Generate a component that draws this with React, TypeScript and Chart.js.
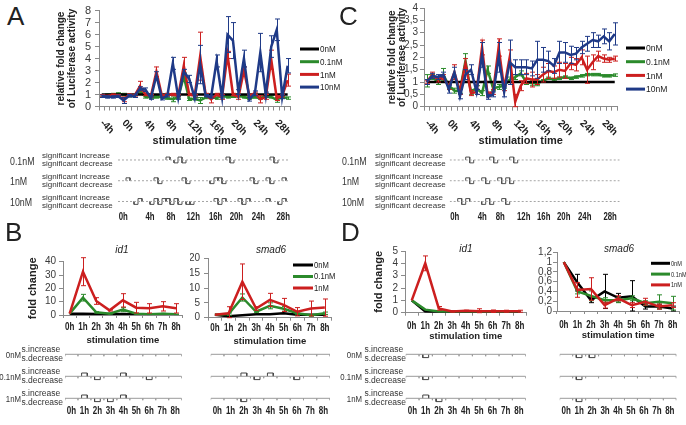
import React, { useEffect, useRef } from 'react';
import { Chart, registerables } from 'chart.js';

Chart.register(...registerables);

const SANS = "'Liberation Sans', Arial, Helvetica, sans-serif";
Chart.defaults.font.family = SANS;

const BLACK = '#000000';
const GREEN = '#2b8a2b';
const RED = '#cc1f1f';
const NAVY = '#1f3a87';
const AXIS = '#8a8a8a';
const TEXT = '#222222';

// ---------------- Panels A / C : hourly luciferase ----------------
const hoursAC = ['-4h','-3h','-2h','-1h','0h','1h','2h','3h','4h','5h','6h','7h','8h','9h','10h','11h','12h','13h','14h','15h','16h','17h','18h','19h','20h','21h','22h','23h','24h','25h','26h','27h','28h','29h','30h'];
const shownHoursAC = ['-4h','0h','4h','8h','12h','16h','20h','24h','28h'];

const A_0nM = [1,1,1,1,1,1,1,1,1,1,1,1,1,1,1,1,1,1,1,1,1,1,1,1,1,1,1,1,1,1,1,1,1,1,1];
const A_01nM = [0.9,0.95,1.0,1.05,1.0,0.9,0.85,1.3,0.8,0.75,0.8,0.8,0.7,0.6,0.75,2.5,0.6,0.65,0.5,0.75,0.8,0.7,0.9,0.8,0.85,0.9,0.8,0.7,0.8,0.7,0.85,0.8,0.55,0.8,0.7];
const A_01nM_err = [0.1,0.1,0.1,0.1,0.1,0.1,0.1,0.2,0.1,0.1,0.1,0.1,0.1,0.2,0.1,0.3,0.1,0.1,0.25,0.1,0.1,0.1,0.1,0.1,0.1,0.1,0.1,0.1,0.1,0.1,0.1,0.1,0.2,0.1,0.1];
const A_1nM = [0.9,0.85,0.95,0.9,0.6,0.95,0.9,1.7,1.0,0.9,2.9,0.9,1.0,1.0,0.9,3.4,1.0,0.9,4.2,1.0,0.6,1.0,0.8,4.3,1.0,0.8,3.0,0.9,1.1,0.6,0.8,3.9,0.7,0.9,2.2];
const A_1nM_err = [0.1,0.1,0.1,0.1,0.2,0.1,0.1,0.4,0.1,0.1,0.4,0.1,0.1,0.1,0.1,0.7,0.1,0.1,2.0,0.1,0.3,0.1,0.2,0.3,0.1,0.2,0.3,0.1,0.1,0.3,0.2,0.8,0.2,0.1,0.5];
const A_10nM = [0.85,0.8,0.8,0.85,0.5,0.9,0.85,1.5,1.4,0.7,2.6,0.65,0.9,3.6,0.7,2.9,2.3,0.7,3.5,0.9,0.8,3.8,0.8,6.0,5.5,1.2,4.0,0.6,1.1,4.5,1.0,5.0,6.4,0.8,3.4];
const A_10nM_err = [0.1,0.1,0.1,0.1,0.25,0.1,0.1,0.15,0.15,0.1,0.3,0.1,0.1,0.5,0.1,0.2,0.3,0.1,1.6,0.1,0.1,0.5,0.1,1.5,1.5,0.2,0.7,0.15,0.2,1.6,0.2,0.9,0.9,0.15,0.6];

const C_0nM = [1,1,1,1,1,1,1,1,1,1,1,1,1,1,1,1,1,1,1,1,1,1,1,1,1,1,1,1,1,1,1,1,1,1,1];
const C_01nM = [1.05,1.2,1.0,1.3,0.85,0.65,0.65,1.85,0.6,0.75,0.55,1.5,0.75,0.8,0.85,1.1,1.2,1.35,1.0,0.95,0.95,1.05,1.15,1.1,1.15,1.2,1.15,1.2,1.25,1.3,1.3,1.3,1.25,1.25,1.28];
const C_01nM_err = [0.25,0.1,0.1,0.25,0.1,0.1,0.1,0.3,0.1,0.1,0.1,0.15,0.1,0.1,0.1,0.1,0.1,0.1,0.1,0.1,0.1,0.05,0.05,0.05,0.05,0.05,0.05,0.05,0.05,0.05,0.05,0.05,0.05,0.05,0.05];
const C_1nM = [1.0,1.3,1.1,1.2,0.8,1.4,0.6,1.75,0.55,0.6,2.4,0.5,0.6,2.4,0.75,2.0,0.2,0.85,1.15,1.1,1.1,1.3,1.45,1.4,1.5,1.45,1.75,1.7,2.0,1.5,1.8,2.05,1.95,1.9,1.95];
const C_1nM_err = [0.05,0.1,0.1,0.1,0.1,0.3,0.1,0.2,0.1,0.1,0.3,0.1,0.1,0.35,0.1,0.3,0.3,0.2,0.2,0.3,0.2,0.3,0.3,0.25,0.3,0.3,0.25,0.25,0.3,0.55,0.3,0.2,0.15,0.1,0.1];
const C_10nM = [1.0,1.25,1.2,1.3,0.7,1.4,0.42,1.3,1.5,0.6,2.1,0.4,0.5,2.0,0.6,1.8,1.6,1.6,1.6,1.55,1.9,1.9,1.85,1.65,2.2,2.2,2.1,2.15,2.4,2.55,2.7,2.65,2.85,2.65,2.95];
const C_10nM_err = [0.1,0.1,0.1,0.1,0.15,0.2,0.1,0.2,0.2,0.1,0.5,0.1,0.1,0.6,0.2,0.9,0.3,0.3,0.3,0.3,0.75,0.5,0.4,0.3,0.45,0.4,0.35,0.25,0.25,0.3,0.3,0.25,0.3,0.35,0.45];

// ---------------- Panels B / D : qPCR 0-8h ----------------
const hoursBD = ['0h','1h','2h','3h','4h','5h','6h','7h','8h'];

const B_id1_0nM = [1,1,0.8,0.7,0.8,0.6,0.5,0.6,0.5];
const B_id1_01nM = [1,13,2,1,4,1,0.5,1,0.5];
const B_id1_01nM_err = [0,2.5,0.5,0.3,1.5,0.3,0.2,0.3,0.2];
const B_id1_1nM = [1,32.5,10.5,3.5,11,5.5,5,6.5,5];
const B_id1_1nM_err = [0,10.5,2.5,0.5,5,4,3.5,3.5,3.5];

const B_smad6_0nM = [1,0.5,0.8,1.2,1.2,1.5,1.0,1.0,1.0];
const B_smad6_01nM = [1,1.2,6.8,2,4,3,1.5,0.8,1.5];
const B_smad6_01nM_err = [0,0.4,1.2,0.3,1,0.8,0.5,0.3,0.4];
const B_smad6_1nM = [1,1.5,12.1,3.1,6,4.3,2,3.1,3.4];
const B_smad6_1nM_err = [0,2.2,6,0.6,2.2,2.2,1.4,2.5,2.9];

const D_id1_0nM = [1,0.1,0.05,0.05,0.05,0.05,0.05,0.05,0.05];
const D_id1_01nM = [1,0.25,0.1,0.1,0.1,0.1,0.1,0.1,0.12];
const D_id1_1nM = [1,4.0,0.35,0.1,0.15,0.12,0.12,0.12,0.12];
const D_id1_1nM_err = [0,0.6,0.15,0.05,0.05,0.2,0.1,0.08,0.08];

const D_smad6_0nM = [1,0.58,0.22,0.4,0.27,0.3,0.09,0.09,0.05];
const D_smad6_0nM_err = [0,0.17,0.05,0.35,0.09,0.32,0.05,0.05,0.05];
const D_smad6_01nM = [1,0.4,0.31,0.22,0.22,0.26,0.16,0.19,0.16];
const D_smad6_01nM_err = [0,0.05,0.1,0.05,0.05,0.05,0.05,0.14,0.14];
const D_smad6_1nM = [1,0.43,0.45,0.12,0.26,0.12,0.19,0.09,0.12];
const D_smad6_1nM_err = [0,0.15,0.23,0.06,0.05,0.05,0.07,0.05,0.05];

// ---------------- significance tracks (1 = increase, -1 = decrease) ----------------
const sigA_01nM = [0,0,0,0,0,0,0,0,0,0, 0,0,1,0,-1,1,-1,0,0,0, 0,0,0,0,0,0,0,1,-1,0, 0,0,0,0,0,0,0,0,1,-1, 0,0,0];
const sigA_1nM = [0,0,1,0,0,0,0,0,0,1, -1,0,0,0,0,0,1,-1,0,0, 0,0,0,-1,1,1,-1,0,0,0, 0,0,0,1,-1,0,0,1,-1,0, 0,1,0];
const sigA_10nM = [0,0,0,0,-1,1,0,0,-1,1, -1,1,1,-1,1,-1,0,-1,-1,0, 0,0,0,0,1,-1,1,0,0,0, 1,-1,1,0,0,0,0,1,0,0, -1,1,0];
const sigC_01nM = [0,0,0,0,1,-1,0,0,0,0, 1,-1,0,0,0,1,-1,0,0,0, 0,0,0,0,0,0,0,0,0,0, 0,0,0,0,0,0,0,0,0,0, 0,0];
const sigC_1nM = [0,0,0,0,1,-1,0,0,1,-1, 0,0,1,-1,1,-1,0,0,0,0, 0,0,0,0,0,0,0,0,0,0, 0,0,0,0,0,0,0,0,0,0, 0,0];
const sigC_10nM = [0,0,1,-1,1,0,0,0,-1,1, -1,0,0,1,-1,0,0,0,0,0, 0,0,0,0,0,0,0,0,0,0, 0,0,0,0,0,0,0,0,0,0, 0,0];
const sigTickLabelsAC = ['0h','4h','8h','12h','16h','20h','24h','28h'];
const sigTickSlotsA = [1.3, 8, 13.25, 18.8, 24.4, 29.6, 35.1, 41.3];
const sigTickSlotsC = [1.25, 8.15, 12.65, 18.5, 23.5, 28.5, 33.75, 40.1];

const sigB_id1_0nM = [0,0,0,0,0,0,0,0,0];
const sigB_id1_01nM = [0,1,-1,0,1,0,-1,0,0];
const sigB_id1_1nM = [0,1,-1,-1,1,0,0,0,0];
const sigB_smad6_0nM = [0,0,0,0,0,0,0,0,0];
const sigB_smad6_01nM = [0,0,1,-1,1,0,-1,0,0];
const sigB_smad6_1nM = [0,0,-1,0,0,0,0,0,0];
const sigD_id1_0nM = [0,-1,0,0,0,0,0,0,0];
const sigD_id1_01nM = [0,-1,0,0,0,0,0,0,0];
const sigD_id1_1nM = [0,1,-1,0,0,0,0,0,0];
const sigD_smad6_0nM = [0,-1,-1,0,0,0,0,0,0];
const sigD_smad6_01nM = [0,-1,0,0,0,0,0,0,0];
const sigD_smad6_1nM = [0,-1,0,0,0,0,0,0,0];
const hourSlotsBD = [0,1,2,3,4,5,6,7,8];

const concAC = ['0nM','0.1nM','1nM','10nM'];
const concBD = ['0nM','0.1nM','1nM'];
const sigRowsAC = ['0.1nM','1nM','10nM'];

// ---------------- plugins ----------------
const errorBars = {
  id: 'errorBars',
  afterDatasetDraw(chart: any, args: any) {
    const ds = chart.data.datasets[args.index];
    if (!ds.errors) return;
    const ys = chart.scales.y;
    const ctx = chart.ctx;
    ctx.save();
    ctx.strokeStyle = ds.borderColor;
    ctx.lineWidth = 1;
    args.meta.data.forEach((pt: any, i: number) => {
      const e = ds.errors[i];
      const v = ds.data[i];
      if (!e) return;
      const x = Math.round(pt.x) + 0.5;
      const yt = ys.getPixelForValue(v + e);
      const yb = ys.getPixelForValue(Math.max(v - e, ys.min));
      ctx.beginPath();
      ctx.moveTo(x, yt); ctx.lineTo(x, yb);
      ctx.moveTo(x - 2.5, yt); ctx.lineTo(x + 2.5, yt);
      ctx.moveTo(x - 2.5, yb); ctx.lineTo(x + 2.5, yb);
      ctx.stroke();
    });
    ctx.restore();
  },
};

function condensedText(ctx: any, text: string, x: number, y: number, sx: number) {
  ctx.save();
  ctx.translate(x, y);
  ctx.scale(sx, 1);
  ctx.fillText(text, 0, 0);
  ctx.restore();
}

const lineLegend = {
  id: 'lineLegend',
  afterDraw(chart: any, _a: any, o: any) {
    if (!o || o.x == null) return;
    const ctx = chart.ctx;
    ctx.save();
    ctx.font = `${o.size}px ${SANS}`;
    ctx.textBaseline = 'middle';
    ctx.textAlign = 'left';
    chart.data.datasets.forEach((ds: any, i: number) => {
      const y = o.y + i * o.dy;
      ctx.strokeStyle = ds.borderColor;
      ctx.lineWidth = 3;
      ctx.beginPath();
      ctx.moveTo(o.x, y);
      ctx.lineTo(o.x + o.len, y);
      ctx.stroke();
      ctx.fillStyle = TEXT;
      condensedText(ctx, ds.label, o.x + o.len + 1, y + 0.5, o.sx);
    });
    ctx.restore();
  },
};

const rotLabels = {
  id: 'rotLabels',
  afterDraw(chart: any, _a: any, o: any) {
    if (!o || !o.labels) return;
    const xs = chart.scales.x;
    const ctx = chart.ctx;
    ctx.save();
    ctx.font = `bold 10px ${SANS}`;
    ctx.fillStyle = TEXT;
    ctx.textAlign = 'left';
    ctx.textBaseline = 'middle';
    chart.data.labels.forEach((lab: string, i: number) => {
      if (o.labels.indexOf(lab) < 0) return;
      const x = xs.getPixelForValue(i) + o.dx;
      const y = chart.chartArea.bottom + o.dy;
      ctx.save();
      ctx.translate(x, y);
      ctx.rotate(Math.PI / 4);
      ctx.fillText(lab, 0, 0);
      ctx.restore();
    });
    ctx.restore();
  },
};

// horizontal (condensed, bold) x labels drawn through the x scale
const catLabels = {
  id: 'catLabels',
  afterDraw(chart: any, _a: any, o: any) {
    if (!o || o.dy == null) return;
    const xs = chart.scales.x;
    const ctx = chart.ctx;
    const labels: string[] = o.labels || chart.data.labels;
    ctx.save();
    ctx.font = `bold ${o.size}px ${SANS}`;
    ctx.fillStyle = TEXT;
    ctx.textAlign = 'center';
    ctx.textBaseline = 'middle';
    labels.forEach((lab: string, i: number) => {
      const v = o.pos ? o.pos[i] : i;
      condensedText(ctx, lab, xs.getPixelForValue(v), chart.chartArea.bottom + o.dy, o.sx);
    });
    ctx.restore();
  },
};

// ---------------- config builders ----------------
function series(label: string, data: number[], color: string, order: number, errors?: number[]) {
  return { label, data, borderColor: color, backgroundColor: color, borderWidth: 2.5, pointRadius: 0, pointHoverRadius: 0, tension: 0, fill: false, order, errors };
}

function mainConfig(o: any) {
  const fmt = (v: number) => {
    const r = Math.round(v * 100) / 100;
    return o.comma ? String(r).replace('.', ',') : String(r);
  };
  return {
    type: 'line',
    data: { labels: o.labels, datasets: o.datasets },
    options: {
      animation: false,
      responsive: false,
      devicePixelRatio: 1,
      events: [],
      layout: { padding: o.pad },
      plugins: {
        legend: { display: false },
        tooltip: { enabled: false },
        lineLegend: o.legend || {},
        rotLabels: o.rotated ? { labels: shownHoursAC, dx: o.rot.dx, dy: o.rot.dy } : {},
        catLabels: o.rotated ? {} : { dy: o.xLabelDy, size: 10, sx: 0.8 },
      },
      scales: {
        x: {
          type: 'category',
          offset: true,
          grid: { display: true, drawOnChartArea: false, offset: true, tickLength: o.rotated ? 4 : 3, color: AXIS },
          border: { display: true, color: AXIS },
          ticks: { display: false },
          title: {
            display: true, text: 'stimulation time', color: TEXT,
            font: { family: SANS, size: o.xTitleSize, weight: 'bold', lineHeight: 1.2 },
            padding: { top: 0, bottom: o.xTitlePad },
          },
          afterFit: (s: any) => { s.height = o.xHeight; },
        },
        y: {
          min: o.yMin, max: o.yMax,
          grid: { display: true, drawOnChartArea: false, tickLength: 4, color: AXIS },
          border: { display: true, color: AXIS },
          ticks: { stepSize: o.yStep, autoSkip: false, callback: (v: number) => fmt(v), color: '#3a3a3a', padding: o.yTickPad, font: { family: SANS, size: o.yTickSize } },
          title: o.yTitle
            ? { display: true, text: o.yTitle, color: TEXT, font: { family: SANS, size: o.yTitleSize, weight: 'bold', lineHeight: o.yTitleLH ?? 1.15 }, padding: { top: o.yTitlePad, bottom: 0 } }
            : { display: false },
          afterFit: (s: any) => { s.width = o.yWidth; },
        },
      },
    },
    plugins: [errorBars, lineLegend, rotLabels, catLabels],
  };
}

function sigConfig(o: any) {
  const datasets: any[] = [];
  o.rows.forEach((row: number[], r: number) => {
    const base: any[] = [];
    if (o.tick > 0) {
      base.push({ x: o.xMin, y: r + o.tick }, { x: o.xMin, y: r });
      for (let b = o.xMin + 1; b <= o.xMax + 1e-9; b += 1) {
        base.push({ x: b, y: r }, { x: b, y: r + o.tick }, { x: b, y: r });
      }
    } else {
      base.push({ x: o.xMin, y: r }, { x: o.xMax, y: r });
    }
    datasets.push({ data: base, borderColor: o.baseColor, borderDash: o.baseDash, borderWidth: 1, pointRadius: 0, tension: 0 });
    const bumps: any[] = [];
    row.forEach((s: number, i: number) => {
      if (!s) return;
      const c = i + o.center;
      const t = r - s * o.amp;
      bumps.push({ x: c - o.half, y: r }, { x: c - o.half, y: t }, { x: c + o.half, y: t }, { x: c + o.half, y: r }, { x: c + o.half, y: null });
    });
    datasets.push({ data: bumps, borderColor: o.bumpColor, borderWidth: 1, pointRadius: 0, tension: 0, spanGaps: false });
  });
  return {
    type: 'line',
    data: { datasets },
    options: {
      animation: false,
      responsive: false,
      devicePixelRatio: 1,
      events: [],
      layout: { padding: o.padding },
      plugins: {
        legend: { display: false },
        tooltip: { enabled: false },
        catLabels: { labels: o.tickLabels, pos: o.tickPos, dy: 5, size: 10, sx: o.labelSx },
      },
      scales: {
        x: {
          type: 'linear', min: o.xMin, max: o.xMax,
          grid: { display: false, drawTicks: false },
          border: { display: false },
          ticks: { display: false },
          afterFit: (s: any) => { s.height = 12; },
        },
        y: { display: false, reverse: true, min: -0.5, max: o.yMax },
      },
    },
    plugins: [catLabels],
  };
}

// ---------------- chart configs ----------------
const cfgA = () => mainConfig({
  labels: hoursAC,
  datasets: [
    series(concAC[0], A_0nM, BLACK, 2),
    series(concAC[1], A_01nM, GREEN, 3, A_01nM_err),
    series(concAC[2], A_1nM, RED, 1, A_1nM_err),
    series(concAC[3], A_10nM, NAVY, 0, A_10nM_err),
  ],
  pad: { left: 0, right: 52.6, top: 6.5, bottom: 0 },
  yMin: 0, yMax: 8, yStep: 1, yWidth: 49, xHeight: 43.5,
  yTitle: ['relative fold change', 'of Luciferase activity'], yTitleSize: 10, yTitlePad: 5.25,
  yTickSize: 11, yTickPad: 4,
  xTitleSize: 11, xTitlePad: 2.4,
  rotated: true, rot: { dx: 0, dy: 15 },
  legend: { x: 250, y: 49, dy: 12.7, len: 19, size: 9.5, sx: 0.85 },
});

const cfgC = () => mainConfig({
  labels: hoursAC,
  datasets: [
    series(concAC[0], C_0nM, BLACK, 2),
    series(concAC[1], C_01nM, GREEN, 3, C_01nM_err),
    series(concAC[2], C_1nM, RED, 1, C_1nM_err),
    series(concAC[3], C_10nM, NAVY, 0, C_10nM_err),
  ],
  pad: { left: 0, right: 68.5, top: 6.7, bottom: 0 },
  yMin: 0, yMax: 4, yStep: 0.5, comma: true, yWidth: 44, xHeight: 43.3,
  yTitle: ['relative fold change', 'of Luciferase activity'], yTitleSize: 10, yTitlePad: 6.5, yTitleLH: 1.05,
  yTickSize: 10, yTickPad: 2,
  xTitleSize: 11, xTitlePad: 2.4,
  rotated: true, rot: { dx: 0, dy: 15 },
  legend: { x: 246, y: 48, dy: 13.7, len: 19, size: 9.5, sx: 0.9 },
});

const cfgBid1 = () => mainConfig({
  labels: hoursBD,
  datasets: [
    series(concBD[0], B_id1_0nM, BLACK, 2),
    series(concBD[1], B_id1_01nM, GREEN, 1, B_id1_01nM_err),
    series(concBD[2], B_id1_1nM, RED, 0, B_id1_1nM_err),
  ],
  pad: { left: 0, right: 7.3, top: 21.7, bottom: 0 },
  yMin: 0, yMax: 40, yStep: 10, yWidth: 43, xHeight: 35,
  yTitle: ['fold change'], yTitleSize: 11, yTitlePad: 6.7,
  yTickSize: 10, yTickPad: 3,
  xTitleSize: 9.5, xTitlePad: 4.3, xLabelDy: 12,
});

const cfgBsmad6 = () => mainConfig({
  labels: hoursBD,
  datasets: [
    series(concBD[0], B_smad6_0nM, BLACK, 2),
    series(concBD[1], B_smad6_01nM, GREEN, 1, B_smad6_01nM_err),
    series(concBD[2], B_smad6_1nM, RED, 0, B_smad6_1nM_err),
  ],
  pad: { left: 0, right: 8.3, top: 18.3, bottom: 0 },
  yMin: 0, yMax: 20, yStep: 5, yWidth: 18, xHeight: 32.3,
  yTickSize: 10, yTickPad: 4,
  xTitleSize: 9.5, xTitlePad: 2.6, xLabelDy: 10.6,
  legend: { x: 103, y: 25, dy: 11.5, len: 20, size: 8.5, sx: 0.9 },
});

const cfgDid1 = () => mainConfig({
  labels: hoursBD,
  datasets: [
    series(concBD[0], D_id1_0nM, BLACK, 2),
    series(concBD[1], D_id1_01nM, GREEN, 1),
    series(concBD[2], D_id1_1nM, RED, 0, D_id1_1nM_err),
  ],
  pad: { left: 0, right: 3.5, top: 11, bottom: 0 },
  yMin: 0, yMax: 5, yStep: 1, yWidth: 45, xHeight: 37.3,
  yTitle: ['fold change'], yTitleSize: 11, yTitlePad: 12.7,
  yTickSize: 10, yTickPad: 3,
  xTitleSize: 9.5, xTitlePad: 7.6, xLabelDy: 13.3,
});

const cfgDsmad6 = () => mainConfig({
  labels: hoursBD,
  datasets: [
    series(concBD[0], D_smad6_0nM, BLACK, 2, D_smad6_0nM_err),
    series(concBD[1], D_smad6_01nM, GREEN, 1, D_smad6_01nM_err),
    series(concBD[2], D_smad6_1nM, RED, 0, D_smad6_1nM_err),
  ],
  pad: { left: 0, right: 6.6, top: 12.3, bottom: 0 },
  yMin: 0, yMax: 1.2, yStep: 0.2, comma: true, yWidth: 27, xHeight: 39,
  yTickSize: 10, yTickPad: 1,
  xTitleSize: 9.5, xTitlePad: 8.6, xLabelDy: 14,
  legend: { x: 121, y: 23.3, dy: 10.8, len: 19, size: 7, sx: 0.8 },
});

const sigACStyle = { center: 0.5, half: 0.5, amp: 0.14, tick: 0, baseColor: '#a5a5a5', baseDash: [2, 2], bumpColor: '#505050', yMax: 2.5, tickLabels: sigTickLabelsAC, labelSx: 0.78 };
const cfgSigA = () => sigConfig({ ...sigACStyle, rows: [sigA_01nM, sigA_1nM, sigA_10nM], xMin: 0, xMax: 43, tickPos: sigTickSlotsA, padding: { left: 6, right: 4, top: 4.6, bottom: 0.15 } });
const cfgSigC = () => sigConfig({ ...sigACStyle, rows: [sigC_01nM, sigC_1nM, sigC_10nM], xMin: 0, xMax: 42.5, tickPos: sigTickSlotsC, padding: { left: 5.7, right: 4.3, top: 4.6, bottom: 0.15 } });

const sigBDStyle = { center: 0, half: 0.22, amp: 0.15, tick: 0.09, baseColor: '#9a9a9a', baseDash: [], bumpColor: '#444444', yMax: 2.35, xMin: -0.5, xMax: 8.5, tickPos: hourSlotsBD, tickLabels: hoursBD, labelSx: 0.8 };
const cfgSigBid1 = () => sigConfig({ ...sigBDStyle, rows: [sigB_id1_0nM, sigB_id1_01nM, sigB_id1_1nM], padding: { left: 5, right: 8.3, top: 3.3, bottom: 0 } });
const cfgSigBsmad6 = () => sigConfig({ ...sigBDStyle, rows: [sigB_smad6_0nM, sigB_smad6_01nM, sigB_smad6_1nM], padding: { left: 5.7, right: 5, top: 3.3, bottom: 0 } });
const cfgSigDid1 = () => sigConfig({ ...sigBDStyle, rows: [sigD_id1_0nM, sigD_id1_01nM, sigD_id1_1nM], padding: { left: 5.7, right: 4.3, top: 3.3, bottom: 0 } });
const cfgSigDsmad6 = () => sigConfig({ ...sigBDStyle, rows: [sigD_smad6_0nM, sigD_smad6_01nM, sigD_smad6_1nM], padding: { left: 5.7, right: 9.7, top: 3.3, bottom: 0 } });

// ---------------- components ----------------
function ChartBox({ x, y, w, h, make }: { x: number; y: number; w: number; h: number; make: () => any }) {
  const ref = useRef<HTMLCanvasElement>(null);
  useEffect(() => {
    const chart = new Chart(ref.current as HTMLCanvasElement, make());
    return () => chart.destroy();
  }, []);
  return <canvas ref={ref} width={w} height={h} style={{ position: 'absolute', left: x, top: y, width: w, height: h }} />;
}

function T({ x, y, s, children, align = 'left', bold = false, italic = false, sx = 1, color = TEXT }: any) {
  const tx = align === 'center' ? '-50%' : align === 'right' ? '-100%' : '0';
  const origin = align === 'center' ? 'center' : align === 'right' ? 'right' : 'left';
  return (
    <div style={{ position: 'absolute', left: x, top: y, transform: `translate(${tx},-50%) scaleX(${sx})`, transformOrigin: `${origin} center`, fontSize: s, lineHeight: 1, fontFamily: SANS, fontWeight: bold ? 'bold' : 'normal', fontStyle: italic ? 'italic' : 'normal', color, whiteSpace: 'nowrap' }}>
      {children}
    </div>
  );
}

const rowYAC = [160, 180.75, 201.5];
const rowYBD = [354.3, 376.3, 398.3];

export default function App() {
  return (
    <div style={{ position: 'fixed', left: 0, top: 0, width: 686, height: 425, background: '#ffffff', overflow: 'hidden', fontFamily: SANS }}>
      <ChartBox x={50} y={0} w={293} h={150} make={cfgA} />
      <ChartBox x={380} y={0} w={306} h={150} make={cfgC} />
      <ChartBox x={112} y={145} w={182} h={79} make={cfgSigA} />
      <ChartBox x={444} y={145} w={180} h={79} make={cfgSigC} />
      <ChartBox x={20} y={240} w={170} h={110} make={cfgBid1} />
      <ChartBox x={190} y={240} w={150} h={110} make={cfgBsmad6} />
      <ChartBox x={360} y={240} w={170} h={110} make={cfgDid1} />
      <ChartBox x={530} y={240} w={156} h={110} make={cfgDsmad6} />
      <ChartBox x={60} y={340} w={130} h={78} make={cfgSigBid1} />
      <ChartBox x={205} y={340} w={130} h={78} make={cfgSigBsmad6} />
      <ChartBox x={400} y={340} w={130} h={78} make={cfgSigDid1} />
      <ChartBox x={554} y={340} w={132} h={78} make={cfgSigDsmad6} />

      <T x={7} y={16} s={26}>A</T>
      <T x={339} y={16} s={26}>C</T>
      <T x={5} y={232} s={26}>B</T>
      <T x={341} y={232} s={26}>D</T>

      <T x={122} y={250} s={10} italic align="center">id1</T>
      <T x={271} y={250} s={10} italic align="center">smad6</T>
      <T x={466} y={249} s={10} italic align="center">id1</T>
      <T x={619} y={249} s={10} italic align="center">smad6</T>

      {sigRowsAC.map((n, r) => (
        <React.Fragment key={'a' + n}>
          <T x={10} y={rowYAC[r] + 0.5} s={11} sx={0.8} color="#333">{n}</T>
          <T x={42} y={rowYAC[r] - 4} s={8} color="#333">significant increase</T>
          <T x={42} y={rowYAC[r] + 4} s={8} color="#333">significant decrease</T>
          <T x={342} y={rowYAC[r] + 0.5} s={11} sx={0.8} color="#333">{n}</T>
          <T x={375} y={rowYAC[r] - 4} s={8} color="#333">significant increase</T>
          <T x={375} y={rowYAC[r] + 4} s={8} color="#333">significant decrease</T>
        </React.Fragment>
      ))}

      {concBD.map((n, r) => (
        <React.Fragment key={'b' + n}>
          <T x={20.5} y={rowYBD[r] + 1} s={9.5} sx={0.82} align="right" color="#333">{n}</T>
          <T x={21.5} y={rowYBD[r] - 5} s={8.5} color="#333">s.increase</T>
          <T x={21.5} y={rowYBD[r] + 3.5} s={8.5} color="#333">s.decrease</T>
          <T x={362} y={rowYBD[r] + 1} s={9.5} sx={0.82} align="right" color="#333">{n}</T>
          <T x={364.5} y={rowYBD[r] - 5} s={8.5} color="#333">s.increase</T>
          <T x={364.5} y={rowYBD[r] + 3.5} s={8.5} color="#333">s.decrease</T>
        </React.Fragment>
      ))}
    </div>
  );
}
